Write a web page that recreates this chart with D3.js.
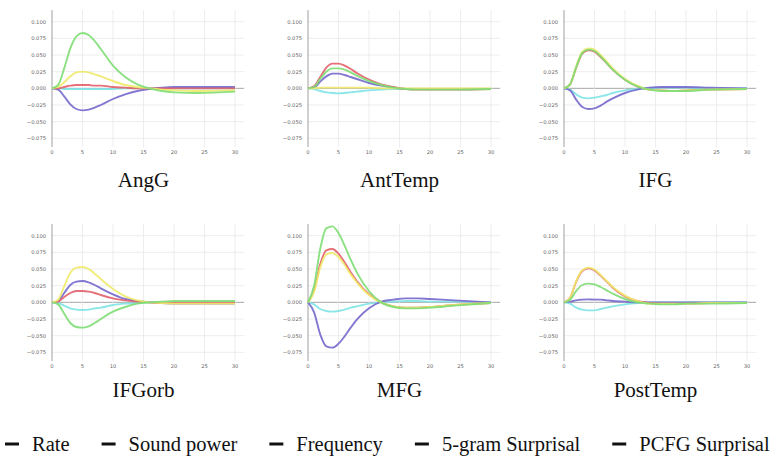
<!DOCTYPE html>
<html>
<head>
<meta charset="utf-8">
<script src="https://cdn.jsdelivr.net/npm/d3@7"></script>
<style>
  body { margin: 0; background: #fff; }
  svg { display: block; }
</style>
</head>
<body>
<svg id="chart" width="778" height="462"></svg>
<script>
var lags = [0, 1, 2, 3, 4, 5, 6, 7, 8, 10, 12, 14, 16, 18, 20, 24, 30];
var regions = ["AngG", "AntTemp", "IFG", "IFGorb", "MFG", "PostTemp"];
var seriesNames = ["Rate", "Sound power", "Frequency", "5-gram Surprisal", "PCFG Surprisal"];
var seriesColors = ["#e2606c", "#f0ea6a", "#7fe3e6", "#7edd74", "#7468cc"];
var yTicks = [0.1, 0.075, 0.05, 0.025, 0, -0.025, -0.05, -0.075];
var xTicks = [0, 5, 10, 15, 20, 25, 30];

// one array per region, in the order of regions
var rateVals = [
    [0, 0, 0.002, 0.004, 0.005, 0.005, 0.005, 0.004, 0.004, 0.002, 0.001, 0, 0, 0, 0, 0, 0],
    [0, 0.003, 0.017, 0.031, 0.037, 0.037, 0.034, 0.029, 0.023, 0.013, 0.006, 0.002, -0.001, -0.002, -0.002, -0.002, -0.001],
    [0, 0.006, 0.031, 0.052, 0.057, 0.055, 0.047, 0.038, 0.028, 0.013, 0.003, -0.002, -0.003, -0.004, -0.003, -0.002, -0.001],
    [0, 0.001, 0.008, 0.014, 0.017, 0.017, 0.016, 0.014, 0.011, 0.006, 0.003, 0.001, 0, -0.001, -0.001, -0.001, -0.001],
    [0, 0.018, 0.057, 0.078, 0.080, 0.073, 0.060, 0.045, 0.032, 0.012, 0, -0.006, -0.008, -0.008, -0.007, -0.004, -0.001],
    [0, 0.007, 0.031, 0.047, 0.051, 0.048, 0.040, 0.031, 0.022, 0.009, 0.002, -0.001, -0.002, -0.002, -0.002, -0.001, -0.001]
];
var soundVals = [
    [0, 0.002, 0.009, 0.018, 0.024, 0.025, 0.024, 0.021, 0.018, 0.011, 0.005, 0.002, 0, -0.002, -0.003, -0.004, -0.003],
    [0, 0, 0.001, 0.001, 0.001, 0.001, 0.001, 0.001, 0.001, 0.001, 0, 0, 0, 0, 0, 0, 0],
    [0, 0.006, 0.033, 0.055, 0.060, 0.058, 0.050, 0.040, 0.030, 0.014, 0.004, -0.002, -0.003, -0.004, -0.003, -0.002, -0.001],
    [0, 0.004, 0.024, 0.044, 0.052, 0.053, 0.050, 0.043, 0.035, 0.020, 0.009, 0.003, 0, -0.001, -0.002, -0.002, -0.002],
    [0, 0.016, 0.052, 0.072, 0.074, 0.068, 0.056, 0.042, 0.030, 0.011, 0, -0.006, -0.008, -0.008, -0.007, -0.004, -0.001],
    [0, 0.007, 0.032, 0.048, 0.052, 0.049, 0.041, 0.032, 0.023, 0.010, 0.002, -0.002, -0.002, -0.002, -0.002, -0.001, -0.001]
];
var freqVals = [
    [0, 0, -0.001, -0.001, -0.001, -0.001, -0.001, -0.001, -0.001, -0.001, 0, 0, 0, 0, 0, 0, 0],
    [0, -0.001, -0.004, -0.006, -0.007, -0.0075, -0.007, -0.006, -0.005, -0.003, -0.002, -0.001, -0.001, -0.001, -0.001, -0.001, -0.001],
    [0, -0.002, -0.009, -0.014, -0.015, -0.014, -0.012, -0.010, -0.007, -0.003, -0.001, 0, 0.001, 0.001, 0.001, 0, 0],
    [0, -0.001, -0.005, -0.009, -0.011, -0.0115, -0.011, -0.009, -0.008, -0.004, -0.002, -0.001, 0, 0, 0, 0, 0],
    [0, -0.003, -0.010, -0.013, -0.014, -0.013, -0.011, -0.008, -0.006, -0.002, 0, 0.001, 0.002, 0.002, 0.001, 0.001, 0],
    [0, -0.002, -0.008, -0.011, -0.012, -0.012, -0.010, -0.008, -0.006, -0.003, -0.001, 0, 0, 0, 0, 0, 0]
];
var ngramVals = [
    [0, 0.005, 0.030, 0.060, 0.078, 0.083, 0.080, 0.071, 0.059, 0.034, 0.017, 0.006, 0, -0.004, -0.006, -0.007, -0.005],
    [0, 0.002, 0.014, 0.025, 0.030, 0.030, 0.028, 0.024, 0.019, 0.011, 0.005, 0.001, -0.001, -0.002, -0.002, -0.002, -0.001],
    [0, 0.006, 0.032, 0.053, 0.058, 0.056, 0.048, 0.038, 0.028, 0.013, 0.003, -0.002, -0.004, -0.004, -0.004, -0.002, -0.001],
    [0, -0.003, -0.017, -0.031, -0.037, -0.038, -0.036, -0.031, -0.025, -0.014, -0.007, -0.002, 0, 0.001, 0.002, 0.002, 0.002],
    [0, 0.025, 0.080, 0.111, 0.114, 0.104, 0.085, 0.064, 0.045, 0.017, 0, -0.007, -0.009, -0.009, -0.008, -0.005, -0.001],
    [0, 0.004, 0.017, 0.026, 0.028, 0.027, 0.023, 0.018, 0.013, 0.005, 0, -0.002, -0.003, -0.003, -0.002, -0.002, -0.001]
];
var pcfgVals = [
    [0, -0.002, -0.012, -0.024, -0.031, -0.033, -0.032, -0.029, -0.025, -0.016, -0.009, -0.004, -0.001, 0.001, 0.002, 0.002, 0.002],
    [0, 0.001, 0.010, 0.018, 0.022, 0.022, 0.020, 0.017, 0.014, 0.008, 0.004, 0.001, -0.001, -0.001, -0.001, -0.001, -0.001],
    [0, -0.003, -0.017, -0.028, -0.031, -0.030, -0.026, -0.020, -0.015, -0.007, -0.002, 0.001, 0.002, 0.002, 0.002, 0.001, 0],
    [0, 0.002, 0.014, 0.026, 0.031, 0.032, 0.030, 0.026, 0.021, 0.012, 0.005, 0.002, 0, -0.001, -0.002, -0.002, -0.002],
    [0, -0.015, -0.048, -0.066, -0.068, -0.062, -0.051, -0.038, -0.026, -0.009, 0.001, 0.004, 0.006, 0.006, 0.005, 0.003, 0],
    [0, 0.001, 0.003, 0.004, 0.0045, 0.004, 0.004, 0.003, 0.002, 0.001, 0, 0, 0, 0, 0, 0, 0]
];
var allVals = [rateVals, soundVals, freqVals, ngramVals, pcfgVals];
var drawOrder = [2, 4, 0, 1, 3]; // which lines end up on top

var svg = d3.select("#chart");
svg.append("rect").attr("width", 778).attr("height", 462).attr("fill", "#fff");

var colLeft = [52, 308, 564];
var rowTop = [0, 214];
var titleY = [187, 397];
var plotW = 183;

var x = d3.scaleLinear().domain([0, 30]).range([0, plotW]);
var y = d3.scaleLinear().domain([-0.088, 0.1175]).range([147, 10]);

var line = d3.line()
    .x(function(d) { return x(d[0]); })
    .y(function(d) { return y(d[1]); })
    .curve(d3.curveMonotoneX);

for (var r = 0; r < regions.length; r++) {
    var col = r % 3, row = Math.floor(r / 3);
    var g = svg.append("g").attr("transform", "translate(" + colLeft[col] + "," + rowTop[row] + ")");

    //grid
    g.selectAll(".hgrid").data(yTicks).enter().append("line")
        .attr("x1", 0).attr("x2", x(31.5))
        .attr("y1", function(d) { return y(d); }).attr("y2", function(d) { return y(d); })
        .attr("stroke", function(d) { return d == 0 ? "#a8a8a8" : "#e9e9e9"; })
        .attr("stroke-width", function(d) { return d == 0 ? 1 : 0.8; });
    g.selectAll(".vgrid").data(xTicks.slice(1)).enter().append("line")
        .attr("x1", function(d) { return x(d); }).attr("x2", function(d) { return x(d); })
        .attr("y1", y(0.1175)).attr("y2", y(-0.088))
        .attr("stroke", "#e9e9e9").attr("stroke-width", 0.8);
    g.append("line").attr("x1", 0).attr("x2", 0).attr("y1", y(0.1175)).attr("y2", y(-0.088))
        .attr("stroke", "#a0a0a0").attr("stroke-width", 1);

    //tick labels
    g.selectAll(".ylab").data(yTicks).enter().append("text")
        .attr("x", -6).attr("y", function(d) { return y(d) + 2; })
        .attr("text-anchor", "end")
        .attr("font-family", "DejaVu Sans").attr("font-size", 5.2).attr("fill", "#666")
        .text(function(d) { return d3.format(".3f")(d).replace("-", "\u2212"); });
    g.selectAll(".xlab").data(xTicks).enter().append("text")
        .attr("x", function(d) { return x(d); }).attr("y", 153.5)
        .attr("text-anchor", "middle")
        .attr("font-family", "DejaVu Sans").attr("font-size", 5.2).attr("fill", "#666")
        .text(function(d) { return d; });

    //curves
    for (var k = 0; k < drawOrder.length; k++) {
        var s = drawOrder[k];
        var pts = lags.map(function(l, i) { return [l, allVals[s][r][i]]; });
        g.append("path").datum(pts)
            .attr("d", line)
            .attr("fill", "none")
            .attr("stroke", seriesColors[s])
            .attr("stroke-width", 1.9)
            .attr("stroke-opacity", 0.9);
    }

    svg.append("text")
        .attr("x", colLeft[col] + plotW / 2)
        .attr("y", titleY[row])
        .attr("text-anchor", "middle")
        .attr("font-family", "Liberation Serif").attr("font-size", 21).attr("fill", "#111")
        .text(regions[r]);
}

//legend, markers are all black in the original
var lx = 5;
for (var i = 0; i < seriesNames.length; i++) {
    svg.append("line").attr("x1", lx).attr("x2", lx + 14)
        .attr("y1", 444).attr("y2", 444)
        .attr("stroke", "#111").attr("stroke-width", 3);
    var t = svg.append("text").attr("x", lx + 27).attr("y", 451)
        .attr("font-family", "Liberation Serif").attr("font-size", 20.5).attr("fill", "#111")
        .text(seriesNames[i]);
    lx += 27 + t.node().getComputedTextLength() + 32;
}
</script>
</body>
</html>
